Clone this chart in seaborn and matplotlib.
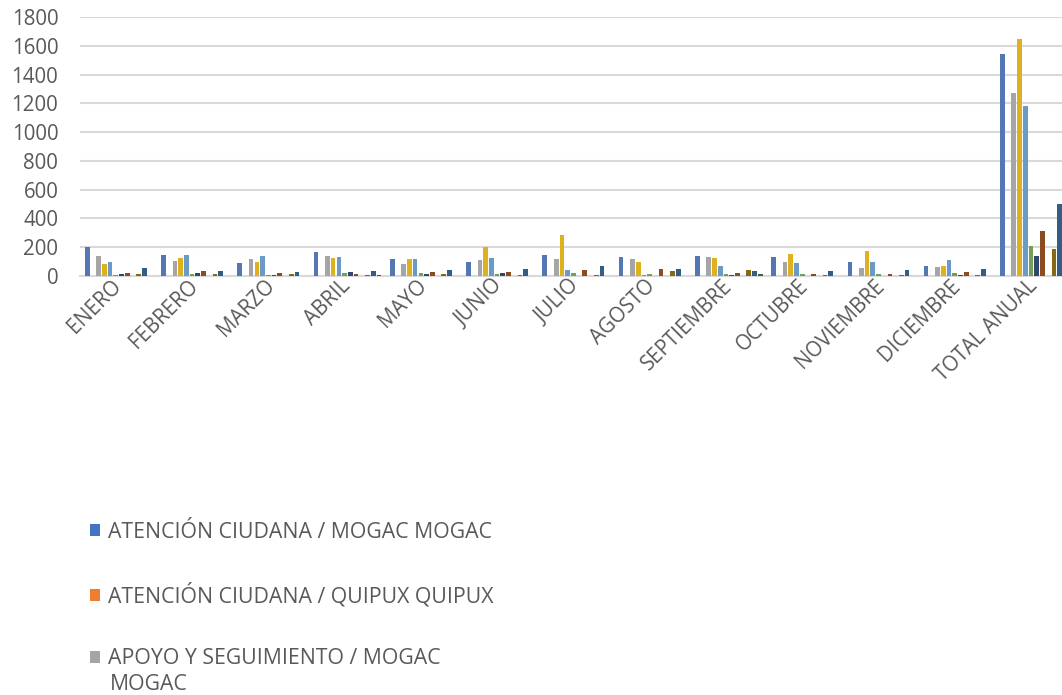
import matplotlib
matplotlib.use("Agg")
import matplotlib.pyplot as plt
from matplotlib.patches import Patch
import seaborn as sns
import pandas as pd

meses = ["ENERO", "FEBRERO", "MARZO", "ABRIL", "MAYO", "JUNIO", "JULIO",
         "AGOSTO", "SEPTIEMBRE", "OCTUBRE", "NOVIEMBRE", "DICIEMBRE", "TOTAL ANUAL"]

series = [
    "ATENCIÓN CIUDANA / MOGAC MOGAC",
    "ATENCIÓN CIUDANA / QUIPUX QUIPUX",
    "APOYO Y SEGUIMIENTO / MOGAC MOGAC",
    "SERIE 4", "SERIE 5", "SERIE 6", "SERIE 7", "SERIE 8",
    "SERIE 9", "SERIE 10", "SERIE 11", "SERIE 12",
]

s1 = [204, 148, 90, 167, 118, 95, 146, 132, 139, 132, 100, 72, 1540]
s2 = [0, 0, 0, 0, 0, 0, 0, 0, 0, 0, 0, 0, 0]
s3 = [139, 104, 118, 139, 83, 113, 116, 116, 130, 100, 56, 63, 1271]
s4 = [83, 125, 97, 125, 116, 204, 285, 97, 123, 155, 176, 69, 1650]
s5 = [97, 144, 141, 132, 118, 125, 42, 10, 69, 93, 100, 113, 1181]
s6 = [10, 12, 10, 23, 18, 16, 21, 14, 14, 12, 14, 18, 208]
s7 = [12, 20, 10, 28, 14, 21, 0, 0, 10, 2, 2, 4, 139]
s8 = [18, 37, 18, 14, 28, 30, 42, 46, 21, 16, 14, 28, 312]
s9 = [0, 0, 0, 0, 0, 0, 0, 0, 0, 0, 0, 0, 0]
s10 = [15, 15, 14, 5, 14, 8, 10, 35, 39, 10, 10, 10, 190]
s11 = [56, 35, 25, 35, 42, 49, 69, 49, 37, 35, 42, 46, 500]
s12 = [3, 0, 2, 4, 0, 3, 0, 0, 12, 2, 0, 0, 26]

colores = ["#4472C4", "#ED7D31", "#A5A5A5", "#FFC000", "#5B9BD5", "#70AD47",
           "#264478", "#9E480E", "#636363", "#997300", "#255E91", "#43682B"]

valores = [s1, s2, s3, s4, s5, s6, s7, s8, s9, s10, s11, s12]
rows = []
for name, vals in zip(series, valores):
    for m, v in zip(meses, vals):
        rows.append({"mes": m, "serie": name, "valor": v})
df = pd.DataFrame(rows)

sns.set_theme(style="white")
plt.rcParams["font.family"] = ["Open Sans", "DejaVu Sans"]

FS = 14.8
FL = 15.3
fig = plt.figure(figsize=(10.62, 6.95), dpi=100)
ax = fig.add_axes([0.0758, 0.6029, 1.0094 - 0.0758, 0.9755 - 0.6029])

sns.barplot(data=df, x="mes", y="valor", hue="serie", order=meses,
            hue_order=series, palette=colores, width=0.9, gap=0.18,
            linewidth=0, errorbar=None, legend=False, ax=ax, zorder=3)

ax.set_ylim(0, 1800)
ax.set_xlim(-0.5, len(meses) - 0.5)
ax.set_yticks(range(0, 1801, 200))
ax.yaxis.grid(True, color="#D9D9D9", linewidth=1.5, zorder=0)
ax.set_axisbelow(True)
for sp in ["top", "right", "left"]:
    ax.spines[sp].set_visible(False)
ax.spines["bottom"].set_color("#D9D9D9")
ax.spines["bottom"].set_linewidth(1.5)
ax.set_xlabel("")
ax.set_ylabel("")
ax.tick_params(axis="both", length=0, colors="#595959", labelsize=FS)
ax.tick_params(axis="y", pad=16)
ax.tick_params(axis="x", pad=5)
for lab in ax.get_xticklabels():
    lab.set_rotation(45)
    lab.set_ha("right")
    lab.set_va("center")
    lab.set_rotation_mode("anchor")

handles = [Patch(facecolor=colores[0], linewidth=0), Patch(facecolor=colores[1], linewidth=0),
           Patch(facecolor=colores[2], linewidth=0)]
labels = ["ATENCIÓN CIUDANA / MOGAC MOGAC", "ATENCIÓN CIUDANA / QUIPUX QUIPUX",
          "APOYO Y SEGUIMIENTO / MOGAC"]
fig.legend(handles, labels, loc="upper left", bbox_to_anchor=(0.0845, 0.249),
           frameon=False, fontsize=FL, labelcolor="#595959",
           handlelength=0.5, handleheight=0.5, handletextpad=0.35,
           labelspacing=1.9, borderaxespad=0, borderpad=0)
fig.text(110 / 1062, 1 - 685 / 695, "MOGAC", fontsize=FL, color="#595959",
         ha="left", va="center")

fig.savefig("out.png", dpi=100)
